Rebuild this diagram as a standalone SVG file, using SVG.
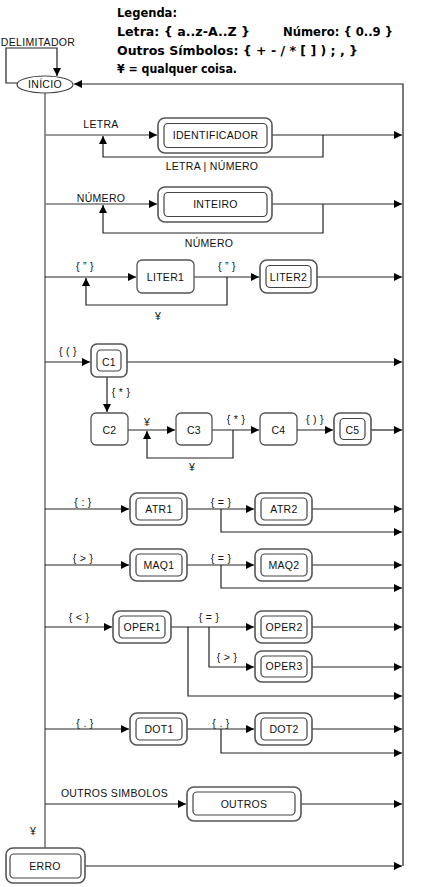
<svg xmlns="http://www.w3.org/2000/svg" width="432" height="887" viewBox="0 0 432 887">
<style>
.ln{fill:none;stroke:#222;stroke-width:1.2}
.lg{fill:none;stroke:#777;stroke-width:1.6}
.o{fill:#fff;stroke:#555;stroke-width:1.6}
.i{fill:#fff;stroke:#444;stroke-width:1.2}
.s{fill:#fff;stroke:#555;stroke-width:1.3}
.t{font-family:"Liberation Sans",Arial,sans-serif;font-size:10.5px;fill:#111;text-anchor:middle;letter-spacing:0.3px}
.l{font-family:"Liberation Sans",Arial,sans-serif;font-size:10.5px;fill:#111;text-anchor:middle;letter-spacing:0.3px}
.leg{font-family:"DejaVu Sans",sans-serif;font-size:12px;font-weight:bold;fill:#000}
</style>
<defs>
<marker id="a" viewBox="0 0 10 10" refX="10" refY="5" markerWidth="9" markerHeight="8" markerUnits="userSpaceOnUse" orient="auto"><path d="M0,0L10,5L0,10z" fill="#000"/></marker>
</defs>
<rect width="432" height="887" fill="#fff"/>
<g id="legenda">
<text class="leg" x="117" y="17" textLength="60" lengthAdjust="spacingAndGlyphs">Legenda:</text>
<text class="leg" x="117" y="36" textLength="133" lengthAdjust="spacingAndGlyphs">Letra: { a..z-A..Z }</text>
<text class="leg" x="283" y="36" textLength="110" lengthAdjust="spacingAndGlyphs">Número: { 0..9 }</text>
<text class="leg" x="117" y="55" textLength="241" lengthAdjust="spacingAndGlyphs">Outros Símbolos: { + - / * [ ] ) ; , }</text>
<text class="leg" x="117" y="73" textLength="120" lengthAdjust="spacingAndGlyphs">¥ = qualquer coisa.</text>
</g>
<g id="connectors">
<path class="ln" d="M18,83 H6 V48 H57 V76" marker-end="url(#a)"/>
<path class="ln" d="M403,866 V84 H74" marker-end="url(#a)"/>
<path class="lg" d="M45,93 V848"/>
<path class="lg" d="M45,135 H157" marker-end="url(#a)"/>
<path class="ln" d="M272,135 H402" marker-end="url(#a)"/>
<path class="ln" d="M323,135 V157 H103 V136" marker-end="url(#a)"/>
<path class="lg" d="M45,204 H157" marker-end="url(#a)"/>
<path class="ln" d="M272,204 H402" marker-end="url(#a)"/>
<path class="ln" d="M323,204 V233 H103 V205" marker-end="url(#a)"/>
<path class="ln" d="M45,277 H136" marker-end="url(#a)"/>
<path class="ln" d="M194,277 H259" marker-end="url(#a)"/>
<path class="ln" d="M317,277 H402" marker-end="url(#a)"/>
<path class="ln" d="M227,277 V305 H86 V278" marker-end="url(#a)"/>
<path class="ln" d="M45,362 H90" marker-end="url(#a)"/>
<path class="ln" d="M127,362 H402" marker-end="url(#a)"/>
<path class="ln" d="M107,377 V412" marker-end="url(#a)"/>
<path class="ln" d="M128,430 H175" marker-end="url(#a)"/>
<path class="ln" d="M212,430 H259" marker-end="url(#a)"/>
<path class="ln" d="M297,430 H333" marker-end="url(#a)"/>
<path class="ln" d="M371,430 H402" marker-end="url(#a)"/>
<path class="ln" d="M233,430 V458 H147 V431" marker-end="url(#a)"/>
<path class="ln" d="M45,509 H129" marker-end="url(#a)"/>
<path class="ln" d="M187,509 H254" marker-end="url(#a)"/>
<path class="ln" d="M312,509 H402" marker-end="url(#a)"/>
<path class="ln" d="M221,509 V532 H402" marker-end="url(#a)"/>
<path class="ln" d="M45,565 H129" marker-end="url(#a)"/>
<path class="ln" d="M187,565 H254" marker-end="url(#a)"/>
<path class="ln" d="M312,565 H402" marker-end="url(#a)"/>
<path class="ln" d="M221,565 V588 H402" marker-end="url(#a)"/>
<path class="ln" d="M45,627 H112" marker-end="url(#a)"/>
<path class="ln" d="M171,627 H254" marker-end="url(#a)"/>
<path class="ln" d="M312,627 H402" marker-end="url(#a)"/>
<path class="ln" d="M209,627 V667 H254" marker-end="url(#a)"/>
<path class="ln" d="M312,667 H402" marker-end="url(#a)"/>
<path class="ln" d="M188,627 V696 H402" marker-end="url(#a)"/>
<path class="ln" d="M45,729 H129" marker-end="url(#a)"/>
<path class="ln" d="M187,729 H254" marker-end="url(#a)"/>
<path class="ln" d="M312,729 H402" marker-end="url(#a)"/>
<path class="ln" d="M221,729 V753 H402" marker-end="url(#a)"/>
<path class="ln" d="M45,804 H186" marker-end="url(#a)"/>
<path class="ln" d="M301,804 H402" marker-end="url(#a)"/>
<path class="ln" d="M85,866 H402" marker-end="url(#a)"/>
</g>
<g id="edge-labels">
<text class="l" x="38" y="46">DELIMITADOR</text>
<text class="l" x="101" y="128">LETRA</text>
<text class="l" x="212" y="170">LETRA | NÚMERO</text>
<text class="l" x="101" y="201.5">NÚMERO</text>
<text class="l" x="209" y="246.5">NÚMERO</text>
<text class="l" x="85" y="269.5">{ ” }</text>
<text class="l" x="227" y="269.5">{ ” }</text>
<text class="l" x="158" y="319.5">¥</text>
<text class="l" x="68" y="354.5">{ ( }</text>
<text class="l" x="121" y="395.5">{ * }</text>
<text class="l" x="147" y="425.5">¥</text>
<text class="l" x="236" y="422.5">{ * }</text>
<text class="l" x="315" y="422.5">{ ) }</text>
<text class="l" x="192" y="470.5">¥</text>
<text class="l" x="83" y="505.5">{ : }</text>
<text class="l" x="221" y="505.5">{ = }</text>
<text class="l" x="83" y="561.5">{ &gt; }</text>
<text class="l" x="221" y="561.5">{ = }</text>
<text class="l" x="79" y="620.5">{ &lt; }</text>
<text class="l" x="209" y="620.5">{ = }</text>
<text class="l" x="227" y="660.5">{ &gt; }</text>
<text class="l" x="85" y="726.5">{ . }</text>
<text class="l" x="221" y="726.5">{ . }</text>
<text class="l" x="114.5" y="796.5">OUTROS SIMBOLOS</text>
<text class="l" x="33" y="834.5">¥</text>
</g>
<g id="inicio"><ellipse cx="45" cy="84.5" rx="28" ry="8.5" fill="#fff" stroke="#444" stroke-width="1.2"/><text class="t" x="45" y="88">INÍCIO</text></g>
<g id="identificador"><rect class="o" x="158" y="118" width="114" height="35" rx="7"/><rect class="i" x="164" y="123.5" width="103" height="24" rx="4"/><text class="t" x="215.5" y="139">IDENTIFICADOR</text></g>
<g id="inteiro"><rect class="o" x="158" y="187" width="114" height="35" rx="7"/><rect class="i" x="164" y="192.5" width="103" height="24" rx="4"/><text class="t" x="215.5" y="208">INTEIRO</text></g>
<g id="liter1"><rect class="s" x="137" y="260" width="57" height="33" rx="5"/><text class="t" x="165.5" y="280.5">LITER1</text></g>
<g id="liter2"><rect class="o" x="260" y="260" width="57" height="33" rx="7"/><rect class="i" x="266" y="265.5" width="45" height="22" rx="4"/><text class="t" x="288.5" y="280.5">LITER2</text></g>
<g id="c1"><rect class="o" x="91" y="344" width="36" height="33" rx="6"/><rect class="i" x="97" y="350" width="24" height="21" rx="4"/><text class="t" x="109" y="365.5">C1</text></g>
<g id="c2"><rect class="s" x="91" y="413" width="37" height="32" rx="5"/><text class="t" x="109.5" y="433.5">C2</text></g>
<g id="c3"><rect class="s" x="176" y="413" width="36" height="32" rx="5"/><text class="t" x="194" y="433.5">C3</text></g>
<g id="c4"><rect class="s" x="260" y="413" width="37" height="32" rx="5"/><text class="t" x="278.5" y="433.5">C4</text></g>
<g id="c5"><rect class="o" x="334" y="413" width="37" height="32" rx="6"/><rect class="i" x="340" y="418.5" width="25" height="21" rx="4"/><text class="t" x="352.5" y="433.5">C5</text></g>
<g id="atr1"><rect class="o" x="130" y="493" width="57" height="32" rx="7"/><rect class="i" x="136" y="498" width="46" height="22" rx="4"/><text class="t" x="159" y="512.5">ATR1</text></g>
<g id="atr2"><rect class="o" x="255" y="493" width="57" height="32" rx="7"/><rect class="i" x="261" y="498" width="46" height="22" rx="4"/><text class="t" x="284" y="512.5">ATR2</text></g>
<g id="maq1"><rect class="o" x="130" y="549" width="57" height="32" rx="7"/><rect class="i" x="136" y="554" width="46" height="22" rx="4"/><text class="t" x="159" y="568.5">MAQ1</text></g>
<g id="maq2"><rect class="o" x="255" y="549" width="57" height="32" rx="7"/><rect class="i" x="261" y="554" width="46" height="22" rx="4"/><text class="t" x="284" y="568.5">MAQ2</text></g>
<g id="oper1"><rect class="o" x="113" y="611" width="58" height="32" rx="7"/><rect class="i" x="119" y="616" width="46" height="22" rx="4"/><text class="t" x="142" y="630.5">OPER1</text></g>
<g id="oper2"><rect class="o" x="255" y="611" width="57" height="32" rx="7"/><rect class="i" x="261" y="616" width="46" height="22" rx="4"/><text class="t" x="284" y="630.5">OPER2</text></g>
<g id="oper3"><rect class="o" x="255" y="651" width="57" height="31" rx="7"/><rect class="i" x="261" y="656" width="46" height="21" rx="4"/><text class="t" x="284" y="670">OPER3</text></g>
<g id="dot1"><rect class="o" x="130" y="713" width="57" height="32" rx="7"/><rect class="i" x="136" y="718" width="46" height="22" rx="4"/><text class="t" x="159" y="732.5">DOT1</text></g>
<g id="dot2"><rect class="o" x="255" y="713" width="57" height="32" rx="7"/><rect class="i" x="261" y="718" width="46" height="22" rx="4"/><text class="t" x="284" y="732.5">DOT2</text></g>
<g id="outros"><rect class="o" x="187" y="787" width="114" height="34" rx="7"/><rect class="i" x="193" y="792" width="102" height="23" rx="4"/><text class="t" x="244" y="807.5">OUTROS</text></g>
<g id="erro"><rect class="o" x="6" y="848" width="79" height="35" rx="7"/><rect class="i" x="10" y="854" width="71" height="24" rx="4"/><text class="t" x="45" y="869.5">ERRO</text></g>
</svg>
